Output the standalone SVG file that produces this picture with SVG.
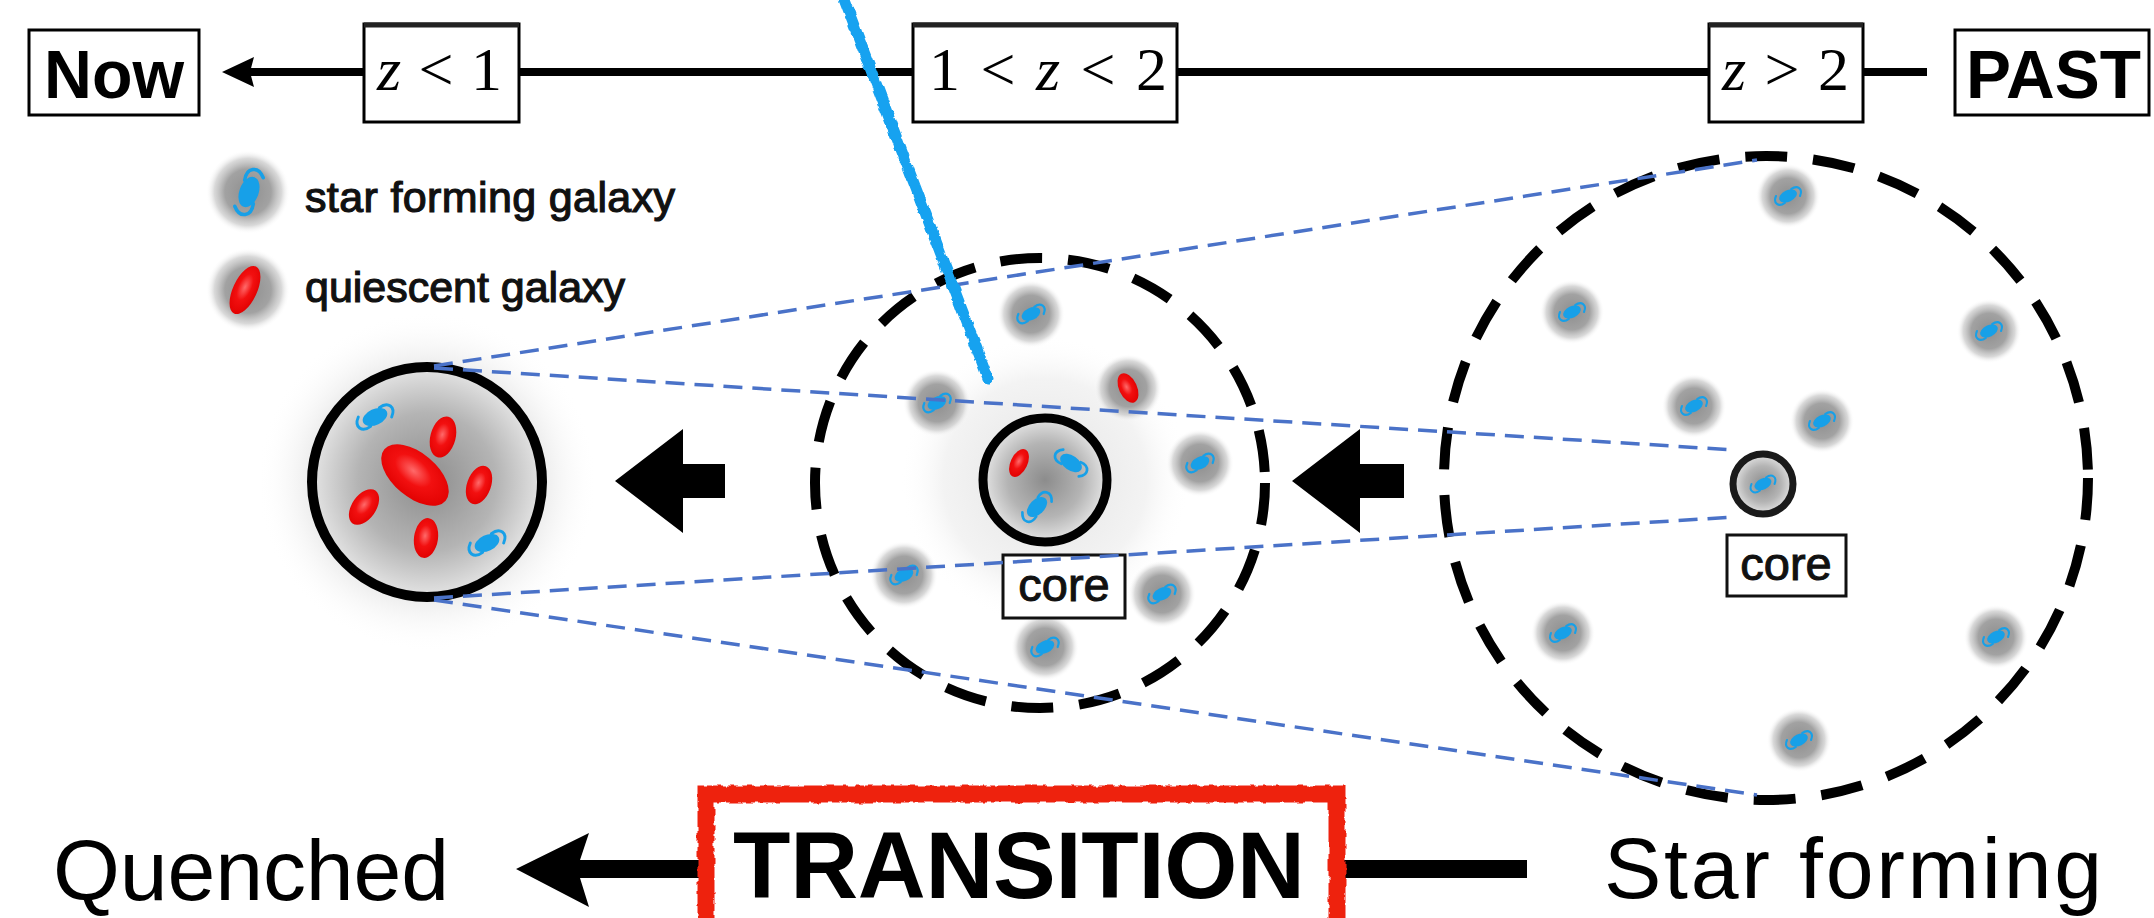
<svg xmlns="http://www.w3.org/2000/svg" xmlns:xlink="http://www.w3.org/1999/xlink" width="2154" height="918" viewBox="0 0 2154 918">
  <style>
    .box { fill: #fff; stroke: #000; stroke-width: 3; }
    .ztop { stroke: #222; stroke-width: 5; }
    .bold { font-family: "Liberation Sans", Arial, sans-serif; font-weight: bold; fill: #000; }
    .zlab { font-family: "Liberation Serif", "Times New Roman", serif; font-size: 62px; fill: #000; }
    .leg { font-family: "Liberation Sans", Arial, sans-serif; font-size: 43px; fill: #111; stroke: #111; stroke-width: 1.2; }
    .core { font-family: "Liberation Sans", Arial, sans-serif; font-size: 47px; fill: #111; stroke: #111; stroke-width: 1; }
    .big { font-family: "Liberation Sans", Arial, sans-serif; font-size: 86px; fill: #000; }
    .proj { fill: none; stroke: #4a72c8; stroke-width: 3.5; stroke-dasharray: 19 10; }
    .cluster { fill: none; stroke: #000; stroke-width: 10; stroke-dasharray: 42 26; }
  </style>
  <defs>
    <radialGradient id="glow">
      <stop offset="0" stop-color="#8e8e8e"/>
      <stop offset="0.55" stop-color="#a2a2a2"/>
      <stop offset="0.8" stop-color="#c8c8c8" stop-opacity="0.7"/>
      <stop offset="1" stop-color="#ffffff" stop-opacity="0"/>
    </radialGradient>
    <radialGradient id="halo">
      <stop offset="0" stop-color="#d8d8d8"/>
      <stop offset="0.7" stop-color="#eeeeee"/>
      <stop offset="1" stop-color="#ffffff" stop-opacity="0"/>
    </radialGradient>
    <radialGradient id="coreFill">
      <stop offset="0" stop-color="#8c8c8c"/>
      <stop offset="0.6" stop-color="#b4b4b4"/>
      <stop offset="1" stop-color="#e4e4e4"/>
    </radialGradient>
    <radialGradient id="redFill" cx="0.45" cy="0.45" r="0.6">
      <stop offset="0" stop-color="#ff6a6a"/>
      <stop offset="0.45" stop-color="#f21010"/>
      <stop offset="1" stop-color="#e00000"/>
    </radialGradient>
    <filter id="rough" filterUnits="userSpaceOnUse" x="0" y="-20" width="2154" height="960">
      <feTurbulence type="fractalNoise" baseFrequency="0.12" numOctaves="2" seed="7" result="n"/>
      <feDisplacementMap in="SourceGraphic" in2="n" scale="5" xChannelSelector="R" yChannelSelector="G"/>
    </filter>
    <!-- star forming galaxy: bar with two trailing arms -->
    <g id="sfb">
      <ellipse rx="9" ry="5.5" transform="rotate(-25)" fill="#17a0e8"/>
      <path d="M 3,-6.5 C 9,-11 14.5,-7 11.5,0" fill="none" stroke="#17a0e8" stroke-width="2" stroke-linecap="round"/>
      <path d="M -3,6.5 C -9,11 -14.5,7 -11.5,0" fill="none" stroke="#17a0e8" stroke-width="2" stroke-linecap="round"/>
    </g>
    <!-- quiescent galaxy -->
    <ellipse id="qb" rx="12" ry="20" fill="url(#redFill)"/>
    <!-- field galaxy with its grey envelope -->
    <g id="sf">
      <circle r="34" fill="url(#glow)"/>
      <use xlink:href="#sfb" transform="scale(1.1)"/>
    </g>
  </defs>

  <rect width="2154" height="918" fill="#fff"/>

  <!-- time axis -->
  <g id="connectors">
    <line x1="250" y1="72" x2="1927" y2="72" stroke="#000" stroke-width="8"/>
    <polygon points="222,72 254,57 250,72 254,87" fill="#000"/>
    <!-- evolution arrows -->
    <polygon points="615,481 683,429 683,464 725,464 725,498 683,498 683,533" fill="#000"/>
    <polygon points="1292,481 1360,429 1360,464 1404,464 1404,498 1360,498 1360,533" fill="#000"/>
    <!-- bottom axis -->
    <polygon points="516,869 589,833 580,860 702,860 702,878 580,878 589,907" fill="#000"/>
    <rect x="1344" y="860" width="183" height="18" fill="#000"/>
  </g>

  <g id="now">
    <rect class="box" x="29" y="30" width="170" height="85"/>
    <text class="bold" x="114" y="98" font-size="68" text-anchor="middle" textLength="140" lengthAdjust="spacingAndGlyphs">Now</text>
  </g>
  <g id="z-lt-1">
    <rect class="box" x="364" y="24" width="155" height="98"/>
    <line class="ztop" x1="364" y1="25" x2="519" y2="25"/>
    <text class="zlab" x="377" y="90" textLength="125"><tspan font-style="italic">z</tspan> &lt; 1</text>
  </g>
  <g id="z-1-2">
    <rect class="box" x="913" y="24" width="264" height="98"/>
    <line class="ztop" x1="913" y1="25" x2="1177" y2="25"/>
    <text class="zlab" x="929" y="90" textLength="238">1 &lt; <tspan font-style="italic">z</tspan> &lt; 2</text>
  </g>
  <g id="z-gt-2">
    <rect class="box" x="1709" y="24" width="154" height="98"/>
    <line class="ztop" x1="1709" y1="25" x2="1863" y2="25"/>
    <text class="zlab" x="1722" y="90" textLength="127"><tspan font-style="italic">z</tspan> &gt; 2</text>
  </g>
  <g id="past">
    <rect class="box" x="1955" y="30" width="194" height="85"/>
    <text class="bold" x="1966" y="98" font-size="68" textLength="175" lengthAdjust="spacingAndGlyphs">PAST</text>
  </g>

  <g id="legend">
    <circle cx="248" cy="192" r="42" fill="url(#glow)"/>
    <use xlink:href="#sfb" transform="translate(249,192) rotate(-45) scale(1.75)"/>
    <text class="leg" x="305" y="212" textLength="370">star forming galaxy</text>
    <circle cx="248" cy="290" r="42" fill="url(#glow)"/>
    <ellipse cx="245" cy="290" rx="12" ry="26" transform="rotate(25 245 290)" fill="url(#redFill)"/>
    <text class="leg" x="305" y="302" textLength="320">quiescent galaxy</text>
  </g>

  <!-- present day: quenched cluster -->
  <g id="cluster-now">
    <circle cx="427" cy="482" r="170" fill="url(#halo)"/>
    <circle cx="427" cy="482" r="115" fill="url(#coreFill)" stroke="#000" stroke-width="10"/>
    <ellipse cx="415" cy="475" rx="40" ry="22" transform="rotate(40 415 475)" fill="url(#redFill)"/>
    <use xlink:href="#qb" transform="translate(443,437) rotate(15) scale(1.05)"/>
    <use xlink:href="#qb" transform="translate(479,485) rotate(20)"/>
    <use xlink:href="#qb" transform="translate(364,507) rotate(35)"/>
    <use xlink:href="#qb" transform="translate(426,538) rotate(8)"/>
    <use xlink:href="#sfb" transform="translate(375,417) scale(1.45)"/>
    <use xlink:href="#sfb" transform="translate(487,543) scale(1.45)"/>
  </g>

  <!-- 1 < z < 2: cluster in transition -->
  <g id="cluster-mid">
    <circle cx="1045" cy="480" r="145" fill="url(#halo)" opacity="0.7"/>
    <circle class="cluster" cx="1040" cy="483" r="225" stroke-width="9" stroke-dasharray="40 28"/>
    <circle cx="1045" cy="480" r="62" fill="url(#coreFill)" stroke="#000" stroke-width="9"/>
    <use xlink:href="#qb" transform="translate(1019,463) rotate(25) scale(0.7 0.75)"/>
    <use xlink:href="#sfb" transform="translate(1071,463) rotate(60) scale(1.35)"/>
    <use xlink:href="#sfb" transform="translate(1037,507) rotate(-20) scale(1.35)"/>
    <use xlink:href="#sf" transform="translate(1031,314)"/>
    <use xlink:href="#sf" transform="translate(937,403)"/>
    <circle cx="1128" cy="388" r="34" fill="url(#glow)"/>
    <use xlink:href="#qb" transform="translate(1128,388) rotate(-25) scale(0.75 0.78)"/>
    <use xlink:href="#sf" transform="translate(1200,463)"/>
    <use xlink:href="#sf" transform="translate(904,575)"/>
    <use xlink:href="#sf" transform="translate(1162,594)"/>
    <use xlink:href="#sf" transform="translate(1045,647)"/>
    <rect x="1003" y="555" width="122" height="63" fill="#fff" stroke="#111" stroke-width="3"/>
    <text class="core" x="1064" y="601" text-anchor="middle">core</text>
  </g>

  <!-- z > 2: star forming protocluster -->
  <g id="cluster-past">
    <circle class="cluster" cx="1766" cy="478" r="322"/>
    <use xlink:href="#sf" transform="translate(1788,196) scale(0.95)"/>
    <use xlink:href="#sf" transform="translate(1572,312) scale(0.95)"/>
    <use xlink:href="#sf" transform="translate(1989,331) scale(0.95)"/>
    <use xlink:href="#sf" transform="translate(1694,406) scale(0.95)"/>
    <use xlink:href="#sf" transform="translate(1822,421) scale(0.95)"/>
    <use xlink:href="#sf" transform="translate(1563,633) scale(0.95)"/>
    <use xlink:href="#sf" transform="translate(1996,637) scale(0.95)"/>
    <use xlink:href="#sf" transform="translate(1799,740) scale(0.95)"/>
    <circle cx="1763" cy="484" r="30" fill="url(#coreFill)" stroke="#1a1a1a" stroke-width="7"/>
    <use xlink:href="#sfb" transform="translate(1763,484)"/>
    <rect x="1727" y="535" width="119" height="61" fill="#fff" stroke="#111" stroke-width="3"/>
    <text class="core" x="1786" y="580" text-anchor="middle">core</text>
  </g>

  <!-- projection lines linking the cores -->
  <g id="projections">
    <line class="proj" x1="434" y1="366" x2="1757" y2="160"/>
    <line class="proj" x1="434" y1="368" x2="1735" y2="450"/>
    <line class="proj" x1="434" y1="598" x2="1735" y2="517"/>
    <line class="proj" x1="434" y1="600" x2="1757" y2="795"/>
  </g>

  <g id="quenched">
    <text class="big" x="53" y="900" textLength="396">Quenched</text>
  </g>
  <g id="transition">
    <path d="M 706,935 L 706,794 L 1337,794 L 1337,935" fill="none" stroke="#ee2211" stroke-width="17" filter="url(#rough)"/>
    <text class="bold" x="733" y="898" font-size="94" textLength="572">TRANSITION</text>
  </g>
  <g id="star-forming">
    <text class="big" x="1604" y="898" textLength="498">Star forming</text>
  </g>

  <!-- hand-drawn pointer -->
  <path d="M 842,-6 L 988,378" fill="none" stroke="#18a2f0" stroke-width="11" stroke-linecap="round" filter="url(#rough)"/>
</svg>
